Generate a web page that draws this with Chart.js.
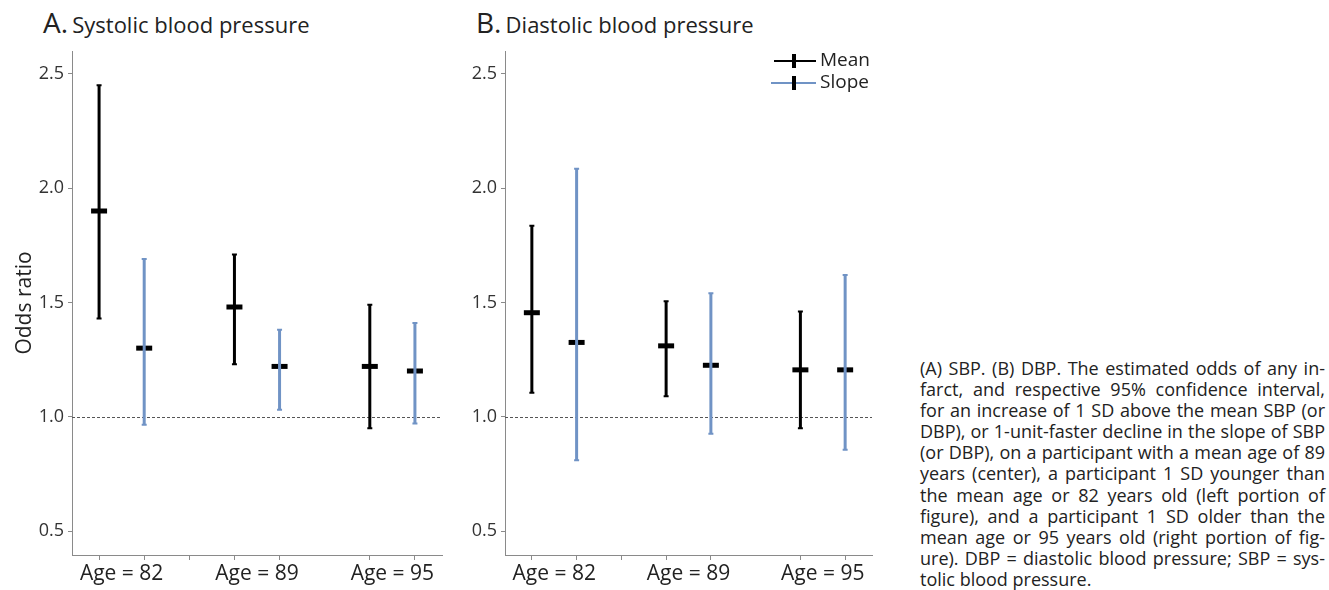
<!DOCTYPE html>
<html>
<head>
<meta charset="utf-8">
<script src="https://cdn.jsdelivr.net/npm/chart.js@4.4.1/dist/chart.umd.min.js"></script>
<style>
  html, body { margin: 0; padding: 0; background: #fff; }
  body { width: 1329px; height: 590px; position: relative; overflow: hidden; font-family: 'Open Sans', sans-serif; color: #222; }
  canvas { position: absolute; top: 0; }
  #chartA { left: 0; }
  #chartB { left: 455px; }
  .title { position: absolute; top: 3px; white-space: nowrap; color: #222; line-height: 38px; }
  .title .big { font-size: 28px; }
  .title .small { font-size: 22px; }
  #caption { position: absolute; left: 920px; top: 358px; width: 405px; font-size: 18px; line-height: 21.1px; color: #222; }
  #caption div { text-align: justify; text-align-last: justify; height: 21.1px; }
  #caption div.last { text-align-last: left; }
</style>
</head>
<body>
<div class="title" style="left:43px"><span class="big">A.</span> <span class="small">Systolic blood pressure</span></div>
<div class="title" style="left:476px"><span class="big">B.</span> <span class="small">Diastolic blood pressure</span></div>
<canvas id="chartA" width="455" height="590"></canvas>
<canvas id="chartB" width="430" height="590"></canvas>
<div id="caption">
  <div>(A) SBP. (B) DBP. The estimated odds of any in-</div>
  <div>farct, and respective 95% confidence interval,</div>
  <div>for an increase of 1 SD above the mean SBP (or</div>
  <div>DBP), or 1-unit-faster decline in the slope of SBP</div>
  <div>(or DBP), on a participant with a mean age of 89</div>
  <div>years (center), a participant 1 SD younger than</div>
  <div>the mean age or 82 years old (left portion of</div>
  <div>figure), and a participant 1 SD older than the</div>
  <div>mean age or 95 years old (right portion of fig-</div>
  <div>ure). DBP = diastolic blood pressure; SBP = sys-</div>
  <div class="last">tolic blood pressure.</div>
</div>
<script>
// groups along the x axis
var groups = ['Age = 82', 'Age = 89', 'Age = 95'];
var yTicks = [0.5, 1.0, 1.5, 2.0, 2.5];

// A. systolic
var sbpMean   = [1.90, 1.48, 1.22];
var sbpMeanLo = [1.43, 1.23, 0.95];
var sbpMeanHi = [2.45, 1.71, 1.49];
var sbpSlope   = [1.30, 1.22, 1.20];
var sbpSlopeLo = [0.965, 1.03, 0.97];
var sbpSlopeHi = [1.69, 1.38, 1.41];

// B. diastolic
var dbpMean   = [1.455, 1.31, 1.205];
var dbpMeanLo = [1.105, 1.09, 0.95];
var dbpMeanHi = [1.835, 1.505, 1.46];
var dbpSlope   = [1.325, 1.225, 1.205];
var dbpSlopeLo = [0.81, 0.925, 0.855];
var dbpSlopeHi = [2.085, 1.54, 1.62];

var BLUE = '#7093c5';
var AXIS = '#8a8a8a';

Chart.defaults.font.family = "'Open Sans', sans-serif";
Chart.defaults.color = '#333';

// each group takes 3 slots on the x axis: mean, slope, gap
var xTickMarks = [0, 1, 2, 3, 4, 6, 7];
var labelPos = groups.map(function (g, i) { return i * 3 + 0.5; });

function pts(vals, offset) {
    return vals.map(function (v, i) { return { x: i * 3 + offset, y: v }; });
}

// vertical CI lines with small caps, drawn over the markers
var errorBars = {
    id: 'errorBars',
    afterDatasetsDraw: function (chart) {
        var ctx = chart.ctx, ys = chart.scales.y;
        chart.data.datasets.forEach(function (ds, i) {
            var meta = chart.getDatasetMeta(i);
            meta.data.forEach(function (pt, j) {
                var top = ys.getPixelForValue(ds.hi[j]);
                var bot = ys.getPixelForValue(ds.lo[j]);
                ctx.save();
                ctx.strokeStyle = ds.barColor;
                ctx.lineWidth = 3;
                ctx.beginPath();
                ctx.moveTo(pt.x, top);
                ctx.lineTo(pt.x, bot);
                ctx.stroke();
                ctx.lineWidth = 2;
                ctx.beginPath();
                ctx.moveTo(pt.x - 2.5, top); ctx.lineTo(pt.x + 2.5, top);
                ctx.moveTo(pt.x - 2.5, bot); ctx.lineTo(pt.x + 2.5, bot);
                ctx.stroke();
                ctx.restore();
            });
        });
    }
};

// dashed reference line at OR = 1
var refLine = {
    id: 'refLine',
    beforeDatasetsDraw: function (chart) {
        var ctx = chart.ctx, a = chart.chartArea;
        var y = Math.round(chart.scales.y.getPixelForValue(1.0)) + 0.5;
        ctx.save();
        ctx.strokeStyle = '#555';
        ctx.lineWidth = 1;
        ctx.setLineDash([3, 2]);
        ctx.beginPath();
        ctx.moveTo(a.left, y);
        ctx.lineTo(a.right, y);
        ctx.stroke();
        ctx.restore();
    }
};

// legend (panel B only)
var errLegend = {
    id: 'errLegend',
    afterDraw: function (chart) {
        if (!chart.options.plugins.errLegend.show) return;
        var ctx = chart.ctx, a = chart.chartArea;
        var items = [
            { label: 'Mean', color: '#000', x0: a.right - 98 },
            { label: 'Slope', color: BLUE, x0: a.right - 101 }
        ];
        var x1 = a.right - 56, xc = a.right - 78;
        ctx.save();
        items.forEach(function (it, k) {
            var y = a.top + 10 + k * 22;
            ctx.strokeStyle = it.color;
            ctx.lineWidth = 2;
            ctx.beginPath();
            ctx.moveTo(it.x0, y);
            ctx.lineTo(x1, y);
            ctx.stroke();
            ctx.fillStyle = '#000';
            ctx.fillRect(xc - 2, y - 7, 4, 14);
            ctx.fillStyle = '#222';
            ctx.font = "19px 'Open Sans', sans-serif";
            ctx.textBaseline = 'middle';
            ctx.fillText(it.label, x1 + 4, y);
        });
        ctx.restore();
    }
};

function makeChart(id, mean, meanLo, meanHi, slope, slopeLo, slopeHi, yWidth, yTitle, legend) {
    return new Chart(document.getElementById(id), {
        type: 'scatter',
        data: {
            datasets: [
                {
                    label: 'Mean',
                    data: pts(mean, 0),
                    lo: meanLo, hi: meanHi, barColor: '#000',
                    pointStyle: 'line',
                    pointRadius: 8,
                    pointHoverRadius: 8,
                    pointBorderWidth: 5,
                    borderColor: '#000',
                    backgroundColor: '#000'
                },
                {
                    label: 'Slope',
                    data: pts(slope, 1),
                    lo: slopeLo, hi: slopeHi, barColor: BLUE,
                    pointStyle: 'line',
                    pointRadius: 8,
                    pointHoverRadius: 8,
                    pointBorderWidth: 5,
                    borderColor: '#000',
                    backgroundColor: '#000'
                }
            ]
        },
        options: {
            responsive: false,
            animation: false,
            devicePixelRatio: 1,
            layout: { padding: { left: 0, right: 6, top: 51, bottom: 0 } },
            plugins: {
                legend: { display: false },
                tooltip: { enabled: false },
                errLegend: { show: legend }
            },
            scales: {
                x: {
                    type: 'linear',
                    min: -0.6,
                    max: 7.6,
                    afterFit: function (s) { s.height = 35; },
                    afterBuildTicks: function (s) {
                        var all = xTickMarks.concat(labelPos).sort(function (a, b) { return a - b; });
                        s.ticks = all.map(function (v) { return { value: v }; });
                    },
                    border: { display: true, color: AXIS, width: 1 },
                    grid: {
                        drawOnChartArea: false,
                        drawTicks: true,
                        tickLength: 5,
                        tickColor: function (c) {
                            return labelPos.indexOf(c.tick.value) >= 0 ? 'rgba(0,0,0,0)' : AXIS;
                        }
                    },
                    ticks: {
                        autoSkip: false,
                        maxRotation: 0,
                        padding: 1,
                        font: { size: 21 },
                        color: '#222',
                        callback: function (v) {
                            var k = labelPos.indexOf(v);
                            return k >= 0 ? groups[k] : '';
                        }
                    }
                },
                y: {
                    min: 0.395,
                    max: 2.6,
                    afterFit: function (s) { s.width = yWidth; },
                    afterBuildTicks: function (s) {
                        s.ticks = yTicks.map(function (v) { return { value: v }; });
                    },
                    border: { display: true, color: AXIS, width: 1 },
                    grid: { drawOnChartArea: false, drawTicks: true, tickLength: 4, color: AXIS },
                    ticks: {
                        padding: 4,
                        font: { size: 18 },
                        color: '#333',
                        callback: function (v) { return v.toFixed(1); }
                    },
                    title: {
                        display: yTitle !== '',
                        text: yTitle,
                        font: { size: 21 },
                        color: '#222',
                        padding: { top: 12, bottom: 0 }
                    }
                }
            }
        },
        plugins: [refLine, errorBars, errLegend]
    });
}

makeChart('chartA', sbpMean, sbpMeanLo, sbpMeanHi, sbpSlope, sbpSlopeLo, sbpSlopeHi, 72, 'Odds ratio', false);
makeChart('chartB', dbpMean, dbpMeanLo, dbpMeanHi, dbpSlope, dbpSlopeLo, dbpSlopeHi, 50, '', true);
</script>
</body>
</html>
